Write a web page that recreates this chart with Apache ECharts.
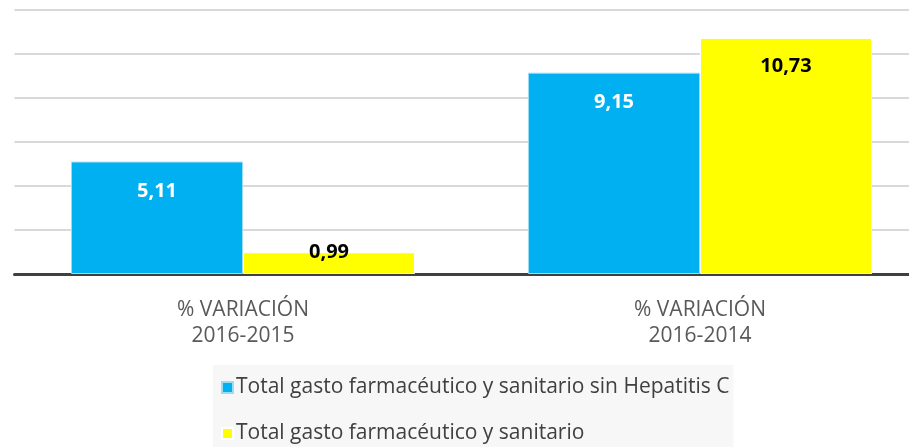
<!DOCTYPE html>
<html>
<head>
<meta charset="utf-8">
<script src="https://cdn.jsdelivr.net/npm/echarts@6/dist/echarts.min.js"></script>
<style>
  html, body { margin: 0; padding: 0; background: #fff; overflow: hidden; }
  /* plot area runs past the right edge of the picture, as in the source */
  #main { width: 930px; height: 447px; }
</style>
</head>
<body>
<div id="main"></div>
<script>
const categories = ['% VARIACIÓN\n2016-2015', '% VARIACIÓN\n2016-2014'];
const seriesNames = [
  'Total gasto farmacéutico y sanitario sin Hepatitis C',
  'Total gasto farmacéutico y sanitario'
];
const sinHepatitis = [5.11, 9.15];
const conHepatitis = [0.99, 10.73];

const FONT = '"Open Sans", sans-serif';
const fmt = (p) => String(p.value).replace('.', ',');

// short bars: the label sits over the bar top instead of inside it
function toItems(values) {
  return values.map(v => v < 2
    ? { value: v, label: { position: 'top', distance: -10 } }
    : v);
}

const chart = echarts.init(document.getElementById('main'));
chart.setOption({
  animation: false,
  textStyle: { fontFamily: FONT },
  grid: { left: 14.5, width: 914, top: 10, bottom: 173 },
  legend: {
    orient: 'vertical',
    left: 213,
    top: 365,
    height: 140,
    padding: [12, 4, 30, 8],
    backgroundColor: '#f7f7f7',
    itemWidth: 11,
    itemHeight: 11,
    itemGap: 25,
    icon: 'rect',
    textStyle: { fontSize: 21, color: '#404040', fontFamily: FONT, padding: [0, 0, 0, -2] },
    data: seriesNames
  },
  xAxis: {
    type: 'category',
    data: categories,
    axisLine: { lineStyle: { color: '#404040', width: 3 } },
    axisTick: { show: false },
    axisLabel: { fontSize: 21, color: '#595959', lineHeight: 26, margin: 23 }
  },
  yAxis: {
    type: 'value',
    min: 0,
    max: 12,
    interval: 2,
    axisLabel: { show: false },
    axisLine: { show: false },
    axisTick: { show: false },
    splitLine: { lineStyle: { color: '#d9d9d9', width: 2 } }
  },
  series: [
    {
      name: seriesNames[0],
      type: 'bar',
      data: toItems(sinHepatitis),
      barWidth: 172,
      barGap: '0%',
      itemStyle: { color: '#00b0f0', borderColor: '#9bdcf5', borderWidth: 1 },
      label: {
        show: true, position: 'insideTop', distance: 20,
        color: '#fff', fontWeight: 'bold', fontSize: 20, formatter: fmt
      }
    },
    {
      name: seriesNames[1],
      type: 'bar',
      data: toItems(conHepatitis),
      barWidth: 172,
      barGap: '0%',
      itemStyle: { color: '#ffff00', borderColor: '#fff', borderWidth: 1 },
      label: {
        show: true, position: 'insideTop', distance: 18,
        color: '#000', fontWeight: 'bold', fontSize: 20, formatter: fmt
      }
    }
  ]
});
</script>
</body>
</html>
